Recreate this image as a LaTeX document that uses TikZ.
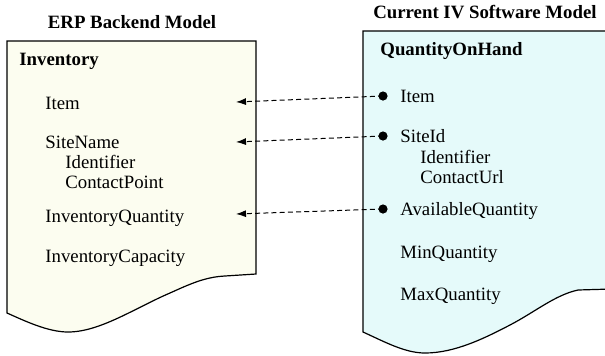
\documentclass[tikz,border=0pt]{standalone}
\usepackage{fontspec}
\setmainfont{Liberation Serif}
\usetikzlibrary{arrows.meta}
\definecolor{erpfill}{RGB}{252,253,240}
\definecolor{ivfill}{RGB}{229,250,250}
\tikzset{
  txt/.style={anchor=base west, inner sep=0pt, font=\fontsize{9.4}{11}\selectfont},
  ttl/.style={anchor=base, inner sep=0pt, font=\fontsize{9.4}{11}\selectfont\bfseries},
  hdr/.style={anchor=base west, inner sep=0pt, font=\fontsize{9.4}{11}\selectfont\bfseries},
  docshape/.style={draw=black, line width=0.6pt},
  dotnode/.style={circle, fill=black, inner sep=0pt, minimum size=4.6pt},
  mapline/.style={dashed, dash pattern=on 2.5pt off 1.6pt, line width=0.5pt, -{Latex[length=5pt,width=3.5pt]}}
}
\begin{document}
\begin{tikzpicture}[x=0.5pt,y=-0.5pt]
\useasboundingbox (0,0) rectangle (605,355);
\begin{scope}
\clip (0,0) rectangle (605,355);
% left document
\path[docshape, fill=erpfill] (7,41) -- (256,41) -- (256,274) -- (225,276)
  .. controls (205,277) and (190,284) .. (170,293)
  .. controls (135,308) and (100,332) .. (68,332)
  .. controls (48,332) and (25,321) .. (7,313) -- cycle;
% right document
\path[docshape, fill=ivfill] (612,31) -- (363,31) -- (363,332)
  .. controls (385,342) and (405,353) .. (425,353)
  .. controls (455,353) and (485,338) .. (510,325)
  .. controls (535,312) and (555,295) .. (578,290) -- (612,289);
\end{scope}
% titles
\node[ttl] (t1) at (132,28) {ERP Backend Model};
\node[ttl] (t2) at (485,18) {Current IV Software Model};
% left texts
\node[hdr] (inv) at (19,65) {Inventory};
\node[txt] (litem) at (45,109) {Item};
\node[txt] (lsite) at (45,148) {SiteName};
\node[txt] (lid) at (65,168) {Identifier};
\node[txt] (lcp) at (65,188) {ContactPoint};
\node[txt] (lqty) at (45,222) {InventoryQuantity};
\node[txt] (lcap) at (45,262) {InventoryCapacity};
% right texts
\node[hdr] (qoh) at (380,55) {QuantityOnHand};
\node[txt] (ritem) at (400,102) {Item};
\node[txt] (rsite) at (400,142) {SiteId};
\node[txt] (rid) at (420,163) {Identifier};
\node[txt] (rcu) at (420,183) {ContactUrl};
\node[txt] (rqty) at (400,215) {AvailableQuantity};
\node[txt] (rmin) at (400,258) {MinQuantity};
\node[txt] (rmax) at (400,300) {MaxQuantity};
% dots and arrow ends
\node[dotnode] (d1) at (383,96) {};
\node[dotnode] (d2) at (383,136) {};
\node[dotnode] (d3) at (383,209) {};
\coordinate (a1) at (236,102);
\coordinate (a2) at (236,142);
\coordinate (a3) at (236,214);
\draw[mapline] (d1.center) -- (a1);
\draw[mapline] (d2.center) -- (a2);
\draw[mapline] (d3.center) -- (a3);
\end{tikzpicture}
\end{document}
